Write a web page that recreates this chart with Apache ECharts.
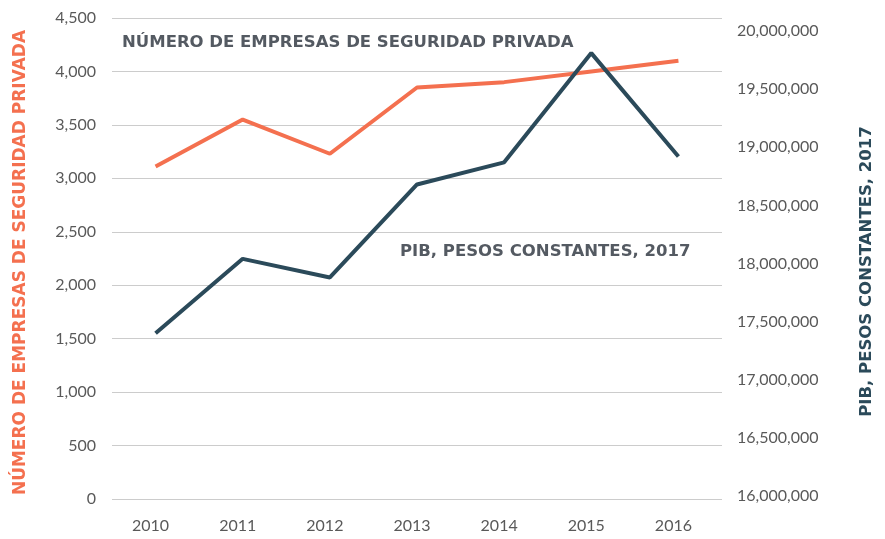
<!DOCTYPE html>
<html>
<head>
<meta charset="utf-8">
<script src="https://cdn.jsdelivr.net/npm/echarts@6/dist/echarts.min.js"></script>
<style>
  html, body { margin: 0; padding: 0; background: #fff; }
  #chart { width: 885px; height: 539px; }
</style>
</head>
<body>
<div id="chart"></div>
<script>
// datos
var years = ["2010", "2011", "2012", "2013", "2014", "2015", "2016"];
var empresas = [3110, 3550, 3230, 3850, 3900, 4000, 4100];
var pib = [17400000, 18040000, 17880000, 18680000, 18870000, 19810000, 18920000];

var orange = "#f4704f";
var teal = "#2b4a5a";
var labelGray = "#595959";
var fontFam = "Lato, 'Open Sans', sans-serif";
var boldFam = "'DejaVu Sans', sans-serif";

var chart = echarts.init(document.getElementById("chart"));

var option = {
  animation: false,
  grid: [
    { left: 112, right: 163, top: 18, bottom: 40, outerBoundsMode: "none" },
    { left: 112, right: 163, top: 31, bottom: 43, outerBoundsMode: "none" }
  ],
  xAxis: [
    {
      type: "category",
      gridIndex: 0,
      data: years,
      axisLine: { show: false },
      axisTick: { show: false },
      axisLabel: { color: labelGray, fontSize: 16, fontFamily: fontFam, margin: 19, padding: [0, 10, 0, 0] }
    },
    {
      type: "category",
      gridIndex: 1,
      data: years,
      show: false
    }
  ],
  yAxis: [
    {
      type: "value",
      gridIndex: 0,
      min: 0,
      max: 4500,
      interval: 500,
      position: "left",
      name: "NÚMERO DE EMPRESAS DE SEGURIDAD PRIVADA",
      nameLocation: "middle",
      nameRotate: 90,
      nameGap: 83,
      nameTextStyle: { color: orange, fontSize: 17, fontWeight: "bold", fontFamily: boldFam, padding: [0, 8, 0, 0] },
      axisLine: { show: false },
      axisTick: { show: false },
      axisLabel: {
        color: labelGray, fontSize: 16, fontFamily: fontFam, margin: 16,
        formatter: function (v) { return v.toLocaleString("en-US"); }
      },
      splitLine: { lineStyle: { color: "#cccccc", width: 1 } }
    },
    {
      type: "value",
      gridIndex: 1,
      min: 16000000,
      max: 20000000,
      interval: 500000,
      position: "right",
      name: "PIB, PESOS CONSTANTES, 2017",
      nameLocation: "middle",
      nameRotate: 90,
      nameGap: 136,
      nameTextStyle: { color: teal, fontSize: 16.5, fontWeight: "bold", fontFamily: boldFam, padding: [0, 16, 0, 0] },
      axisLine: { show: false },
      axisTick: { show: false },
      splitLine: { show: false },
      axisLabel: {
        color: labelGray, fontSize: 16, fontFamily: fontFam, margin: 15,
        formatter: function (v) { return v.toLocaleString("en-US"); }
      }
    }
  ],
  graphic: [
    {
      type: "text",
      left: 122,
      top: 34,
      style: {
        text: "NÚMERO DE EMPRESAS DE SEGURIDAD PRIVADA",
        fill: "#545a62",
        font: "bold 16.5px 'DejaVu Sans', sans-serif"
      }
    },
    {
      type: "text",
      left: 400,
      top: 243,
      style: {
        text: "PIB, PESOS CONSTANTES, 2017",
        fill: "#545a62",
        font: "bold 16.5px 'DejaVu Sans', sans-serif"
      }
    }
  ],
  series: [
    {
      name: "Empresas",
      type: "line",
      xAxisIndex: 0,
      yAxisIndex: 0,
      data: empresas,
      symbol: "none",
      lineStyle: { color: orange, width: 4 },
      z: 2
    },
    {
      name: "PIB",
      type: "line",
      xAxisIndex: 1,
      yAxisIndex: 1,
      data: pib,
      symbol: "none",
      lineStyle: { color: teal, width: 4 },
      z: 3
    }
  ]
};

chart.setOption(option);
</script>
</body>
</html>
